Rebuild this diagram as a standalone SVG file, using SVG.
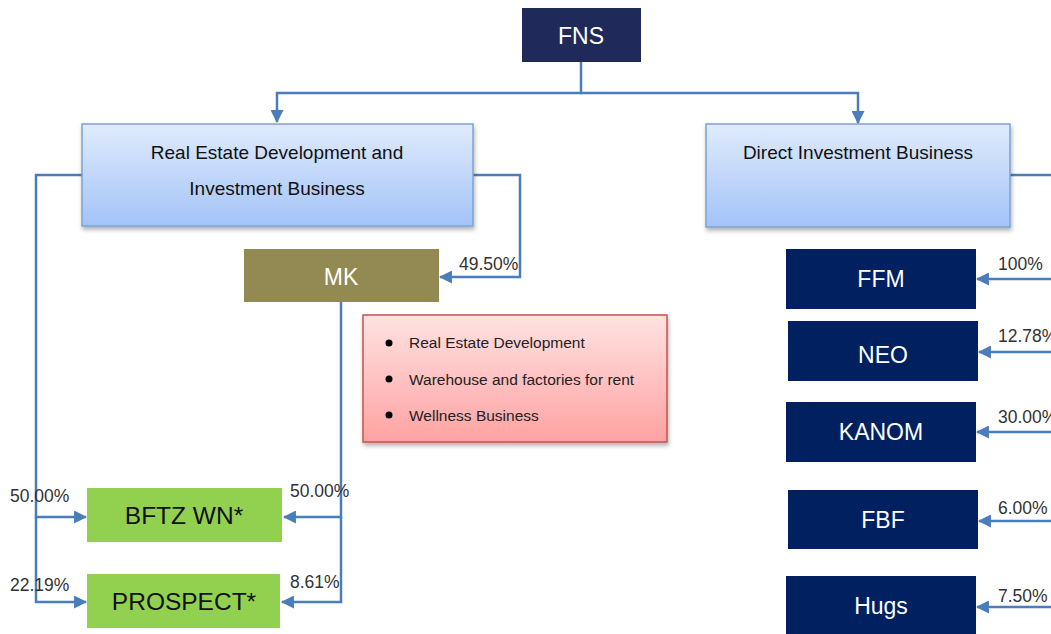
<svg xmlns="http://www.w3.org/2000/svg" width="1051" height="634" viewBox="0 0 1051 634">
  <style>
    .conn { fill: none; stroke: #4a7ebb; stroke-width: 2.5; }
    .pct { font-family: "Liberation Sans", Arial, sans-serif; font-size: 17.5px; fill: #333333; }
    .lbl-white { font-family: "Liberation Sans", Arial, sans-serif; font-size: 23px; fill: #ffffff; text-anchor: middle; }
    .lbl-dark { font-family: "Liberation Sans", Arial, sans-serif; font-size: 19px; fill: #111111; text-anchor: middle; }
    .lbl-green { font-family: "Liberation Sans", Arial, sans-serif; font-size: 24.5px; fill: #111111; text-anchor: middle; }
    .bullet-text { font-family: "Liberation Sans", Arial, sans-serif; font-size: 15.5px; fill: #222222; }
    .navy { fill: #002060; }
    .blue-box { fill: url(#blueGrad); stroke: #7aa2d6; stroke-width: 1.5; filter: url(#shadow); }
  </style>
  <defs>
    <linearGradient id="blueGrad" x1="0" y1="0" x2="0" y2="1">
      <stop offset="0" stop-color="#e0ebfc"/>
      <stop offset="1" stop-color="#a3c3f8"/>
    </linearGradient>
    <linearGradient id="pinkGrad" x1="0" y1="0" x2="0" y2="1">
      <stop offset="0" stop-color="#ffe2e2"/>
      <stop offset="1" stop-color="#ffa2a2"/>
    </linearGradient>
    <filter id="shadow" x="-10%" y="-10%" width="120%" height="130%">
      <feDropShadow dx="1" dy="3" stdDeviation="2" flood-color="#000000" flood-opacity="0.3"/>
    </filter>
    <marker id="ah" viewBox="0 0 12 12" refX="11" refY="6" markerWidth="13" markerHeight="13" markerUnits="userSpaceOnUse" orient="auto">
      <path d="M0,0 L12,6 L0,12 Z" fill="#4a7ebb"/>
    </marker>
  </defs>

  <!-- connectors -->
  <g id="connectors">
    <polyline class="conn" points="581,61 581,93 277,93 277,122" marker-end="url(#ah)"/>
    <polyline class="conn" points="581,93 858,93 858,123" marker-end="url(#ah)"/>
    <!-- real estate branch -->
    <polyline class="conn" points="82,175 36,175 36,517 86,517" marker-end="url(#ah)"/>
    <polyline class="conn" points="36,517 36,602 86,602" marker-end="url(#ah)"/>
    <polyline class="conn" points="473,175 520,175 520,277 440,277" marker-end="url(#ah)"/>
    <polyline class="conn" points="341,302 341,517 284,517" marker-end="url(#ah)"/>
    <polyline class="conn" points="341,517 341,602 282,602" marker-end="url(#ah)"/>
    <!-- direct investment branch -->
    <line class="conn" x1="1010" y1="175" x2="1051" y2="175"/>
    <line class="conn" x1="1051" y1="279" x2="977" y2="279" marker-end="url(#ah)"/>
    <line class="conn" x1="1051" y1="352" x2="979" y2="352" marker-end="url(#ah)"/>
    <line class="conn" x1="1051" y1="432" x2="977" y2="432" marker-end="url(#ah)"/>
    <line class="conn" x1="1051" y1="521" x2="979" y2="521" marker-end="url(#ah)"/>
    <line class="conn" x1="1051" y1="607" x2="977" y2="607" marker-end="url(#ah)"/>
  </g>

  <!-- ownership percentages -->
  <g id="percentages">
    <text class="pct" x="459" y="270">49.50%</text>
    <text class="pct" x="10" y="502">50.00%</text>
    <text class="pct" x="290" y="497">50.00%</text>
    <text class="pct" x="10" y="591">22.19%</text>
    <text class="pct" x="290" y="588">8.61%</text>
    <text class="pct" x="998" y="270">100%</text>
    <text class="pct" x="998" y="342">12.78%</text>
    <text class="pct" x="998" y="423">30.00%</text>
    <text class="pct" x="998" y="514">6.00%</text>
    <text class="pct" x="998" y="602">7.50%</text>
  </g>

  <g id="fns">
    <rect x="522" y="8" width="119" height="54" fill="#1f2a5b"/>
    <text class="lbl-white" x="581" y="44" font-size="25">FNS</text>
  </g>

  <g id="real-estate">
    <rect class="blue-box" x="82" y="124" width="391" height="102"/>
    <text class="lbl-dark" x="277" y="159">Real Estate Development and</text>
    <text class="lbl-dark" x="277" y="195">Investment Business</text>
  </g>

  <g id="direct-investment">
    <rect class="blue-box" x="706" y="124" width="304" height="103"/>
    <text class="lbl-dark" x="858" y="159">Direct Investment Business</text>
  </g>

  <g id="mk">
    <rect x="244" y="249" width="195" height="53" fill="#938953"/>
    <text class="lbl-white" x="341" y="285" font-size="25">MK</text>
  </g>

  <g id="mk-activities">
    <rect x="363" y="315" width="304" height="127" fill="url(#pinkGrad)" stroke="#c9504d" stroke-width="1.5" filter="url(#shadow)"/>
    <circle cx="389" cy="343" r="3.5" fill="#000000"/>
    <circle cx="389" cy="379" r="3.5" fill="#000000"/>
    <circle cx="389" cy="415" r="3.5" fill="#000000"/>
    <text class="bullet-text" x="409" y="348">Real Estate Development</text>
    <text class="bullet-text" x="409" y="385">Warehouse and factories for rent</text>
    <text class="bullet-text" x="409" y="421">Wellness Business</text>
  </g>

  <g id="bftz-wn">
    <rect x="87" y="488" width="195" height="54" fill="#92d050"/>
    <text class="lbl-green" x="184" y="524">BFTZ WN*</text>
  </g>

  <g id="prospect">
    <rect x="87" y="574" width="193" height="54" fill="#92d050"/>
    <text class="lbl-green" x="184" y="610">PROSPECT*</text>
  </g>

  <g id="ffm">
    <rect class="navy" x="786" y="249" width="190" height="60"/>
    <text class="lbl-white" x="881" y="287">FFM</text>
  </g>

  <g id="neo">
    <rect class="navy" x="788" y="321" width="190" height="60"/>
    <text class="lbl-white" x="883" y="363">NEO</text>
  </g>

  <g id="kanom">
    <rect class="navy" x="786" y="402" width="190" height="60"/>
    <text class="lbl-white" x="881" y="440">KANOM</text>
  </g>

  <g id="fbf">
    <rect class="navy" x="788" y="490" width="190" height="59"/>
    <text class="lbl-white" x="883" y="528">FBF</text>
  </g>

  <g id="hugs">
    <rect class="navy" x="786" y="576" width="190" height="58"/>
    <text class="lbl-white" x="881" y="614">Hugs</text>
  </g>
</svg>
